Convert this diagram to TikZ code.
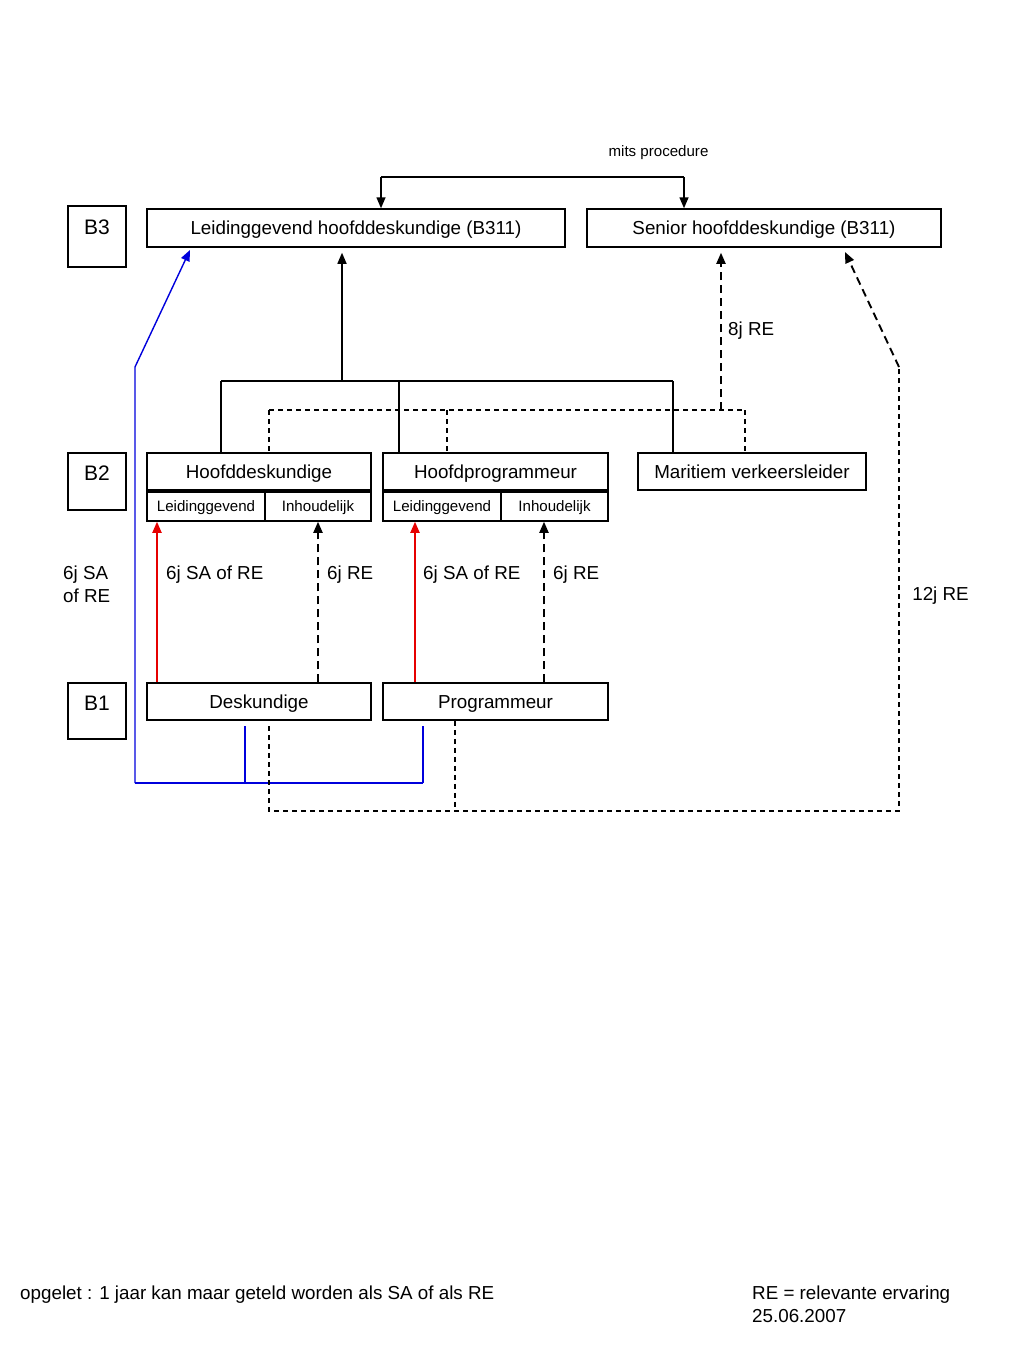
\documentclass[tikz,border=0pt]{standalone}
\usepackage{fontspec}
\setmainfont{Liberation Sans}
\usetikzlibrary{arrows.meta,calc}
\newcommand{\mainf}{\fontsize{18.8}{22}\selectfont}
\newcommand{\smallf}{\fontsize{15.1}{18}\selectfont}
\newcommand{\lvlf}{\fontsize{21}{25}\selectfont}
\begin{document}
\begin{tikzpicture}[x=1pt,y=-1pt,
  box/.style={draw, line width=1.5pt, inner sep=0pt, font=\mainf, text height=13.5pt, text depth=0pt},
  sbox/.style={draw, line width=1.5pt, inner sep=0pt, font=\smallf, text height=11pt, text depth=0pt},
  lbl/.style={font=\mainf, inner sep=0pt, text height=13.5pt, text depth=0pt},
  lvl/.style={font=\lvlf, inner sep=0pt, text height=15pt, text depth=0pt},
  conn/.style={line width=1.5pt},
  dconn/.style={line width=1.3pt, dash pattern=on 5pt off 4pt},
  darr/.style={line width=1.9pt, dash pattern=on 8pt off 5pt},
  tip/.style={-{Triangle[length=11pt,width=9pt]}},
  redc/.style={line width=1.8pt, draw={rgb,255:red,230;green,0;blue,0}},
  bluec/.style={line width=1.4pt, draw={rgb,255:red,0;green,0;blue,220}},
]
\useasboundingbox (0,0) rectangle (1024,1365);

% level boxes
\node[box, minimum width=58pt, minimum height=61pt] (b3) at (97,236.5) {};
\node[lvl] (b3t) at (97,227) {B3};
\node[box, minimum width=58pt, minimum height=57pt] (b2) at (97,481.5) {};
\node[lvl] (b2t) at (97,473) {B2};
\node[box, minimum width=58pt, minimum height=56pt] (b1) at (97,711) {};
\node[lvl] (b1t) at (97,703) {B1};

% B3 functions
\node[box, minimum width=418pt, minimum height=38pt] (lh) at (356,228) {Leidinggevend hoofddeskundige (B311)};
\node[box, minimum width=354pt, minimum height=38pt] (sr) at (764,228) {Senior hoofddeskundige (B311)};

% B2 functions
\node[box, minimum width=224pt, minimum height=37pt] (hd) at (259,471.5) {Hoofddeskundige};
\node[sbox, minimum width=118pt, minimum height=31pt] (hdL) at (206,505.5) {Leidinggevend};
\node[sbox, minimum width=106pt, minimum height=31pt] (hdI) at (318,505.5) {Inhoudelijk};
\draw[line width=3.5pt] (hd.south west) -- (hd.south east);

\node[box, minimum width=225pt, minimum height=37pt] (hp) at (495.5,471.5) {Hoofdprogrammeur};
\node[sbox, minimum width=118pt, minimum height=31pt] (hpL) at (442,505.5) {Leidinggevend};
\node[sbox, minimum width=107pt, minimum height=31pt] (hpI) at (554.5,505.5) {Inhoudelijk};
\draw[line width=3.5pt] (hp.south west) -- (hp.south east);

\node[box, minimum width=228pt, minimum height=37pt] (mv) at (752,471.5) {Maritiem verkeersleider};

% B1 functions
\node[box, minimum width=224pt, minimum height=37pt] (dk) at (259,701.5) {Deskundige};
\node[box, minimum width=225pt, minimum height=37pt] (pg) at (495.5,701.5) {Programmeur};

% top "mits procedure" bracket
\node[font=\smallf, inner sep=0pt, text height=11pt, text depth=0pt] (mp) at (658.5,151) {mits procedure};
\coordinate (t1) at (381,177);
\coordinate (t2) at (684,177);
\draw[conn] (t1) -- (t2);
\draw[conn,tip] (t1) -- (lh.north -| t1);
\draw[conn,tip] (t2) -- (sr.north -| t2);

% solid tree to Leidinggevend hoofddeskundige
\coordinate (s0) at (342,381);
\coordinate (s1) at (221,381);
\coordinate (s2) at (399,381);
\coordinate (s3) at (673,381);
\draw[conn,tip,shorten >=5pt] (s0) -- (lh.south -| s0);
\draw[conn] (s1) -- (s3);
\draw[conn] (s1) -- (hd.north -| s1);
\draw[conn] (s2) -- (hp.north -| s2);
\draw[conn] (s3) -- (mv.north -| s3);

% dashed tree to Senior hoofddeskundige
\coordinate (d0) at (721,410);
\coordinate (d1) at (269,410);
\coordinate (d2) at (447,410);
\coordinate (d3) at (745,410);
\draw[darr,tip,shorten >=5pt] (d0) -- (sr.south -| d0);
\draw[dconn] (d1) -- (d3);
\draw[dconn] (d1) -- (hd.north -| d1);
\draw[dconn] (d2) -- (hp.north -| d2);
\draw[dconn] (d3) -- (mv.north -| d3);
\node[lbl, anchor=west] (l8) at (728,329) {8j RE};

% B1 -> B2 arrows
\coordinate (r1) at (157,600);
\coordinate (k1) at (318,600);
\coordinate (r2) at (415,600);
\coordinate (k2) at (544,600);
\draw[redc,-{Triangle[length=11pt,width=9pt,fill={rgb,255:red,230;green,0;blue,0}]}] (dk.north -| r1) -- (hdL.south -| r1);
\draw[darr,tip] (dk.north -| k1) -- (hdI.south -| k1);
\draw[redc,-{Triangle[length=11pt,width=9pt,fill={rgb,255:red,230;green,0;blue,0}]}] (pg.north -| r2) -- (hpL.south -| r2);
\draw[darr,tip] (pg.north -| k2) -- (hpI.south -| k2);
\node[lbl, anchor=west] (la1) at (166,573) {6j SA of RE};
\node[lbl, anchor=west] (lb1) at (327,573) {6j RE};
\node[lbl, anchor=west] (la2) at (423,573) {6j SA of RE};
\node[lbl, anchor=west] (lb2) at (553,573) {6j RE};
\node[lbl, anchor=west] (lc1) at (63,573) {6j SA};
\node[lbl, anchor=west] (lc2) at (63,596) {of RE};

% blue path to Leidinggevend hoofddeskundige
\coordinate (u1) at (245,726);
\coordinate (u2) at (423,726);
\coordinate (u3) at (245,783);
\coordinate (u4) at (423,783);
\coordinate (u5) at (135,783);
\coordinate (u6) at (135,367);
\coordinate (u7) at (190,250);
\draw[bluec] (u1) -- (u3);
\draw[bluec] (u2) -- (u4);
\draw[bluec] (u4) -- (u5);
\draw[bluec,-{Triangle[length=11pt,width=9pt,fill={rgb,255:red,0;green,0;blue,220}]}] (u5) -- (u6) -- (u7);

% dashed long path to Senior hoofddeskundige
\coordinate (v1) at (269,726);
\coordinate (v2) at (269,811);
\coordinate (v3) at (455,811);
\coordinate (v4) at (899,811);
\coordinate (v5) at (899,367);
\coordinate (v6) at (845,252);
\draw[dconn] (v1) -- (v2) -- (v4) -- (v5);
\draw[dconn] (pg.south -| v3) -- (v3);
\draw[darr,tip] (v5) -- (v6);
\node[lbl] (l12) at (940.5,594) {12j RE};

% footer
\node[lbl, anchor=west] (f1) at (20,1293) {opgelet : 1 jaar kan maar geteld worden als SA of als RE};
\node[lbl, anchor=west] (f2) at (752,1293) {RE = relevante ervaring};
\node[lbl, anchor=west] (f3) at (752,1316) {25.06.2007};
\end{tikzpicture}
\end{document}
